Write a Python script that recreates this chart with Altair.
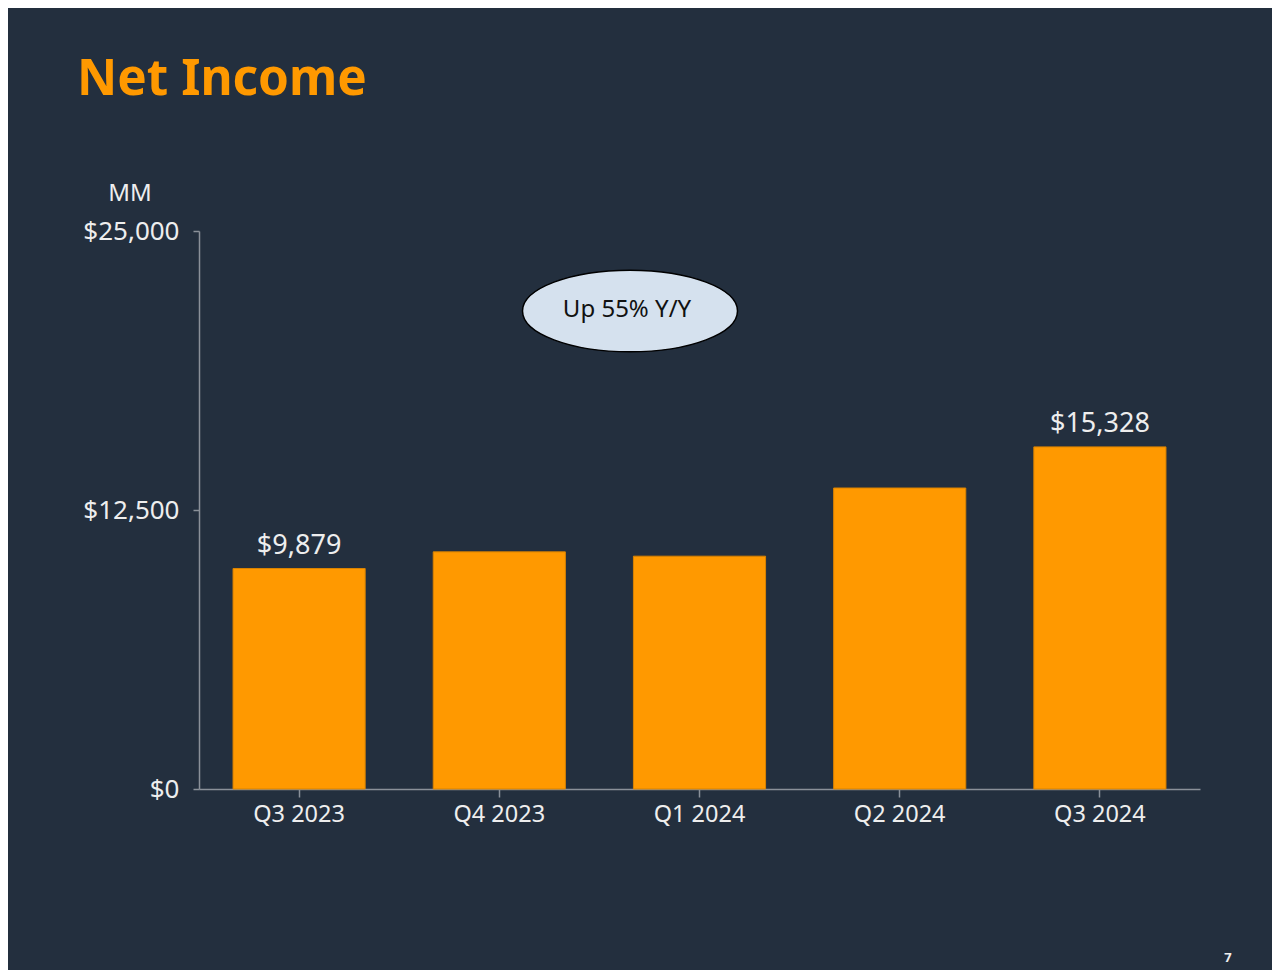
import altair as alt
import pandas as pd

quarters = ["Q3 2023", "Q4 2023", "Q1 2024", "Q2 2024", "Q3 2024"]
net_income = [9879, 10624, 10431, 13485, 15328]
bar_labels = ["$9,879", "", "", "", "$15,328"]
y_ticks = [0, 12500, 25000]

df = pd.DataFrame({"q": quarters, "v": net_income, "lab": bar_labels})

BG = "#232F3E"
ORANGE = "#FF9900"
AXIS = "#8A9099"
TXT = "#EEEEEE"
FONT = "Noto Sans"

W, H = 1001, 558

x = alt.X("q:N", sort=quarters, title=None,
          scale=alt.Scale(paddingInner=0.34, paddingOuter=0.17),
          axis=alt.Axis(labelAngle=0, labelFontSize=23.5, labelColor=TXT, labelFont=FONT,
                        labelPadding=5, tickSize=8, tickColor=AXIS, domainColor=AXIS,
                        domainWidth=1.5, tickWidth=1.5, grid=False))
y = alt.Y("v:Q", title=None,
          scale=alt.Scale(domain=[0, 25000], nice=False),
          axis=alt.Axis(values=y_ticks, format="$,.0f", labelFontSize=26, labelColor=TXT,
                        labelFont=FONT, labelPadding=14, tickSize=6, tickColor=AXIS,
                        domainColor=AXIS, domainWidth=1.5, tickWidth=1.5, grid=False))

bars = alt.Chart(df).mark_bar(color=ORANGE, stroke="#D98200", strokeWidth=1).encode(x=x, y=y)

labels = alt.Chart(df).mark_text(dy=-23, fontSize=27, color=TXT, font=FONT).encode(
    x=alt.X("q:N", sort=quarters), y="v:Q", text="lab:N")

title = alt.Chart(pd.DataFrame({"t": ["Net Income"]})).mark_text(
    align="left", baseline="middle", fontSize=49.5, fontWeight="bold", color=ORANGE, font=FONT
).encode(x=alt.value(-122), y=alt.value(-151), text="t:N")

mm = alt.Chart(pd.DataFrame({"t": ["MM"]})).mark_text(
    align="center", baseline="middle", fontSize=24, color=TXT, font=FONT
).encode(x=alt.value(-69), y=alt.value(-37), text="t:N")

ell_path = "M -1 0 A 1 0.38 0 1 0 1 0 A 1 0.38 0 1 0 -1 0 Z"
ellipse = alt.Chart(pd.DataFrame({"t": ["Up 55% Y/Y"]})).mark_point(
    shape=ell_path, size=215 * 215, filled=True, fill="#D5E1EE", stroke="#000000",
    strokeWidth=1.5, opacity=1
).encode(x=alt.value(431), y=alt.value(80))

ell_text = alt.Chart(pd.DataFrame({"t": ["Up 55% Y/Y"]})).mark_text(
    align="center", baseline="middle", fontSize=24, color="#111111", font=FONT
).encode(x=alt.value(428), y=alt.value(79), text="t:N")

page = alt.Chart(pd.DataFrame({"t": ["7"]})).mark_text(
    align="center", baseline="middle", fontSize=13, fontWeight="bold", color=TXT, font=FONT
).encode(x=alt.value(1029), y=alt.value(727), text="t:N")

chart = alt.layer(bars, labels, title, mm, ellipse, ell_text, page).properties(
    width=W, height=H,
    autosize=alt.AutoSizeParams(type="none"),
    padding={"left": 191, "top": 223, "right": 72, "bottom": 181},
    background=BG,
).configure_view(stroke=None)

chart.save("out.html", embed_options={"renderer": "svg", "actions": False})
